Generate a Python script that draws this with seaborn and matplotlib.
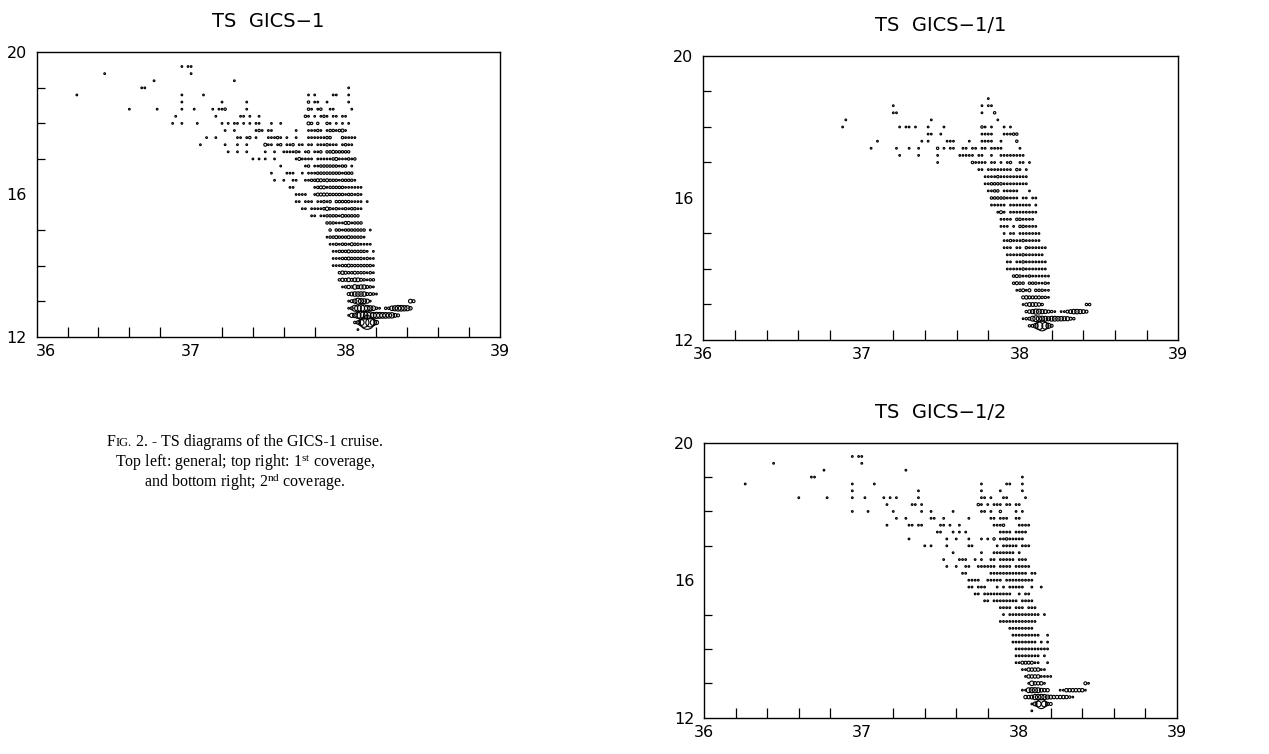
import matplotlib
matplotlib.use("Agg")
import matplotlib.pyplot as plt
from matplotlib.transforms import IdentityTransform, ScaledTranslation
import numpy as np
import pandas as pd
import seaborn as sns

# ---------------------------------------------------------------------------
# TS census of the GICS-1 cruise.
# Each row is one temperature class (0.2 degC); segments "S0:pattern" list
# consecutive salinity classes (0.02) starting at S0.  Pattern characters are
# observation counts in base 36 ('.' = empty class).
# ---------------------------------------------------------------------------
cov1_temps = [18.8, 18.6, 18.4, 18.2, 18.0, 17.8, 17.6, 17.4, 17.2, 17.0,
              16.8, 16.6, 16.4, 16.2, 16.0, 15.8, 15.6, 15.4, 15.2, 15.0,
              14.8, 14.6, 14.4, 14.2, 14.0, 13.8, 13.6, 13.4, 13.2, 13.0,
              12.8, 12.6, 12.4]
cov1_rows = [
    "37.80:1",
    "37.20:1 37.76:1 37.80:11",
    "37.20:11 37.76:1 37.84:2",
    "36.90:1 37.44:1 37.86:1",
    "36.88:1 37.24:1 37.28:11 37.34:1 37.42:1 37.52:1 37.76:21.1 37.90:1.1",
    "37.42:11 37.50:1 37.76:1111 37.90:11122",
    "37.10:1 37.38:1 37.42:1 37.54:111 37.68:1 37.76:1111 37.88:1 37.98:2",
    "37.06:1 37.22:1 37.30:1 37.36:1 37.48:2 37.52:1 37.56:11 37.64:11 37.70:11 37.76:11 37.82:1111 38.00:1",
    "37.24:1 37.36:1 37.48:1 37.62:11111 37.74:11 37.82:1 37.88:11111111",
    "37.48:1 37.70:21111.11.1.12..11.1",
    "37.74:11.11111111.21.1",
    "37.78:11112111111111",
    "37.78:11222211111111",
    "37.80:1122.11111...1",
    "37.82:222221111.11.11",
    "37.82:11111.1111111.1",
    "37.86:131.111111111",
    "37.88:1111.221111",
    "37.88:111.1.221111",
    "37.90:1.11.1111111",
    "37.90:112111211111",
    "37.90:111.11.2111111",
    "37.92:111112111111",
    "37.92:11.1121111111",
    "37.92:1111121111111",
    "37.96:232112111111",
    "37.96:2322.2221121",
    "37.98:12313.22211",
    "38.02:343333221",
    "38.02:1355542 38.42:22",
    "38.04:2469865321 38.26:113577653",
    "38.02:1238ca98688776632",
    "38.06:238kzg93",
]

cov2_temps = [19.6, 19.4, 19.2, 19.0, 18.8, 18.6, 18.4, 18.2, 18.0, 17.8,
              17.6, 17.4, 17.2, 17.0, 16.8, 16.6, 16.4, 16.2, 16.0, 15.8,
              15.6, 15.4, 15.2, 15.0, 14.8, 14.6, 14.4, 14.2, 14.0, 13.8,
              13.6, 13.4, 13.2, 13.0, 12.8, 12.6, 12.4, 12.2]
cov2_rows = [
    "36.94:1 36.98:11",
    "36.44:1 37.00:1",
    "36.76:1 37.28:1",
    "36.68:11 38.02:1",
    "36.26:1 36.94:1 37.08:1 37.76:1 37.92:11 38.02:1",
    "36.94:1 37.36:1 37.76:1 37.88:1 38.02:1",
    "36.60:1 36.78:1 36.94:1 37.02:1 37.14:1 37.18:1 37.22:1 37.36:1 37.76:11.1 37.90:11 38.04:1",
    "37.16:1 37.32:11 37.38:1 37.74:21.1.111.11.11",
    "36.94:1 37.04:1 37.20:1 37.38:1 37.44:1 37.58:1 37.76:11.1 37.88:2 37.98:1 38.02:1",
    "37.22:1 37.28:1 37.44:11 37.52:1 37.68:1 37.82:11.111 37.98:11",
    "37.16:1 37.30:11 37.36:11 37.50:11 37.56:1 37.62:1 37.84:1112 38.00:1111",
    "37.48:11 37.58:1 37.62:1 37.66:1 37.88:1111.1111",
    "37.30:1 37.54:1 37.60:1 37.68:1 37.76:1 37.80:1 37.84:2 37.88:11211111",
    "37.40:1 37.44:1 37.54:1 37.68:11 37.86:1 37.90:11111 38.02:111",
    "37.58:1 37.76:1 37.84:1111111.1",
    "37.52:1 37.62:111 37.72:1 37.76:1 37.82:11.11111.111",
    "37.54:1 37.60:1 37.66:11 37.74:111111.1111.11111",
    "37.64:11 37.82:111111111111.11",
    "37.68:1111 37.80:11111.111111111",
    "37.68:11.111 37.86:1 37.90:1 37.94:11111 38.08:1 38.14:1",
    "37.72:11 37.78:111111111 38.00:1 38.04:11",
    "37.78:11 37.84:11111111 38.02:1111",
    "37.88:1111.111.111",
    "37.90:1.1111111111 38.16:1",
    "37.88:111111111111",
    "37.94:11111111",
    "37.96:111111111..1",
    "37.96:11111111.1.1",
    "37.98:11111111111",
    "37.98:11111111.1",
    "37.98:11333311..1",
    "38.02:11444411",
    "38.04:144441111",
    "38.06:174441 38.42:31",
    "38.02:118998544 38.26:114444441",
    "38.04:4459aa9654444421",
    "38.08:15cuc43",
    "38.08:1",
]

# x/y tick labels and panel titles
sal_labels = ["36", "37", "38", "39"]
temp_labels = ["12", "16", "20"]
titles = ["TS  GICS\u22121", "TS  GICS\u22121/1", "TS  GICS\u22121/2"]


def census(temps, rows):
    recs = []
    for t, row in zip(temps, rows):
        for seg in row.split():
            s0, pat = seg.split(":")
            s0 = float(s0)
            for k, ch in enumerate(pat):
                if ch == ".":
                    continue
                recs.append((round(s0 + 0.02 * k, 2), t, int(ch, 36)))
    return pd.DataFrame(recs, columns=["S", "T", "n"])


cov1 = census(cov1_temps, cov1_rows)
cov2 = census(cov2_temps, cov2_rows)
# the general diagram pools both coverages
general = (pd.concat([cov1, cov2])
           .groupby(["S", "T"], as_index=False)["n"].sum())

W, H, DPI = 1269, 754, 100
fig = plt.figure(figsize=(W / DPI, H / DPI), dpi=DPI)
plt.rcParams["font.family"] = ["DejaVu Sans"]


def frac(left, top, right, bottom):
    return [left / W, 1 - bottom / H, (right - left) / W, (bottom - top) / H]


panels = [
    (general, frac(36.7, 52.3, 500.0, 336.7), titles[0], 9),
    (cov1, frac(703.3, 56.0, 1178.3, 340.0), titles[1], 0),
    (cov2, frac(704.3, 442.7, 1176.7, 717.7), titles[2], 0),
]

NMAX = 70
for df, rect, title, x0_shift in panels:
    ax = fig.add_axes(rect)
    sns.scatterplot(data=df, x="S", y="T", size="n",
                    sizes=(1.5, 1.5 * NMAX), size_norm=(1, NMAX),
                    color="black", edgecolor="black", linewidth=0.8,
                    legend=False, ax=ax, zorder=3)
    pts = ax.collections[-1]
    pts.set_facecolor("none")
    pts.set_edgecolor("black")

    ax.set_xlim(36, 39)
    ax.set_ylim(12, 20)
    ax.set_xlabel("")
    ax.set_ylabel("")

    ax.set_xticks([float(v) for v in sal_labels])
    ax.set_xticklabels(sal_labels)
    ax.set_xticks(np.arange(36.2, 38.81, 0.2), minor=True)
    ax.set_yticks([float(v) for v in temp_labels])
    ax.set_yticklabels(temp_labels)
    ax.set_yticks(np.arange(13, 20, 1.0), minor=True)

    ax.tick_params(axis="both", which="major", length=0, labelsize=11.5,
                   colors="black")
    ax.tick_params(axis="x", which="major", pad=5)
    ax.tick_params(axis="y", which="major", pad=7)
    ax.tick_params(axis="x", which="minor", direction="in", length=7.2,
                   width=0.9, bottom=True, top=False)
    ax.tick_params(axis="y", which="minor", direction="in", length=5.8,
                   width=0.9, left=True, right=False)

    for sp in ax.spines.values():
        sp.set_linewidth(1.0)
        sp.set_color("black")
    ax.set_facecolor("white")

    if x0_shift:
        lab = ax.get_xticklabels()[0]
        lab.set_transform(lab.get_transform()
                          + ScaledTranslation(x0_shift / DPI, 0, fig.dpi_scale_trans))

    ax.set_title(title, fontsize=14, pad=18, color="black")

# figure caption (serif, small caps on "Fig.")
plt.rcParams["mathtext.fontset"] = "custom"
plt.rcParams["mathtext.rm"] = "Liberation Serif"
plt.rcParams["mathtext.it"] = "Liberation Serif:italic"

cap_x = 245
serif = "Liberation Serif"
fs = 11.5
renderer = fig.canvas.get_renderer()

pieces = [("F", fs), ("IG.", fs * 0.78),
          (" 2. - TS diagrams of the GICS-1 cruise.", fs)]
arts = []
for txt, size in pieces:
    arts.append(fig.text(0, H - 446, txt, fontsize=size, family=serif,
                         transform=IdentityTransform(), va="baseline",
                         ha="left"))
widths = [a.get_window_extent(renderer).width for a in arts]
x = cap_x - sum(widths) / 2
for a, w in zip(arts, widths):
    a.set_x(x)
    x += w

fig.text(cap_x, H - 467,
         r"Top left: general; top right: $1^{\mathrm{st}}$ coverage,",
         fontsize=fs, family=serif, transform=IdentityTransform(),
         ha="center", va="baseline")
fig.text(cap_x, H - 487,
         r"and bottom right; $2^{\mathrm{nd}}$ coverage.",
         fontsize=fs, family=serif, transform=IdentityTransform(),
         ha="center", va="baseline")

fig.savefig("out.png", dpi=DPI, facecolor="white")
